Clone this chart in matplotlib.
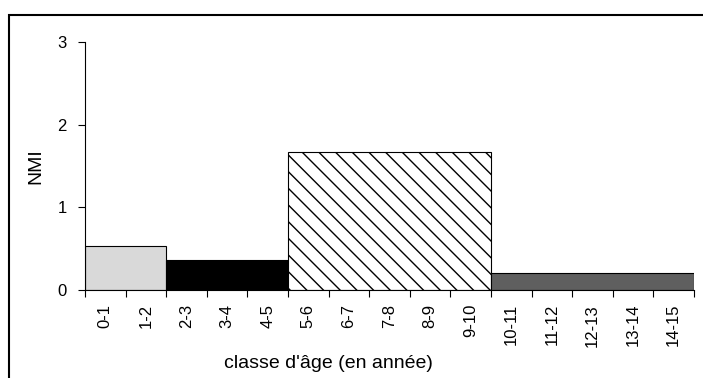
import matplotlib.pyplot as plt
from matplotlib.patches import Rectangle

plt.rcParams['font.family'] = ['Liberation Sans', 'DejaVu Sans']

# age classes (one per year)
classes = ['0-1', '1-2', '2-3', '3-4', '4-5', '5-6', '6-7', '7-8', '8-9', '9-10',
           '10-11', '11-12', '12-13', '13-14', '14-15']

# each group spans several age classes: first class index, number of classes
group_start = [0, 2, 5, 10]
group_span = [2, 3, 5, 5]
nmi = [0.53, 0.36, 1.67, 0.21]
colors = ['#d9d9d9', '#000000', '#ffffff', '#5f5f5f']
hatches = [None, None, '\\\\', None]

fig = plt.figure(figsize=(7.03, 3.78), dpi=100)
ax = fig.add_axes([85 / 703, 88 / 378, 609 / 703, 248 / 378])

for s, w, h, c, ht in zip(group_start, group_span, nmi, colors, hatches):
    ax.bar(s, h, width=w, align='edge', color=c, edgecolor='black',
           linewidth=0.8, hatch=ht)

ax.set_xlim(0, len(classes))
ax.set_ylim(0, 3)
ax.set_yticks([0, 1, 2, 3])

# tick marks between classes, labels centred on each class
ax.set_xticks(range(len(classes) + 1))
ax.set_xticklabels([])
ax.set_xticks([i + 0.5 for i in range(len(classes))], minor=True)
ax.set_xticklabels(classes, minor=True, rotation=90, fontsize=12)
ax.tick_params(axis='x', which='major', length=5, width=0.8, direction='out')
ax.tick_params(axis='x', which='minor', length=0, pad=10)
ax.tick_params(axis='y', length=5, width=0.8, labelsize=12, pad=8)

ax.spines['top'].set_visible(False)
ax.spines['right'].set_visible(False)
ax.spines['left'].set_linewidth(0.8)
ax.spines['bottom'].set_linewidth(0.8)

ax.set_ylabel('NMI', fontsize=14)
ax.yaxis.set_label_coords(-0.066, 0.5)
ax.set_xlabel("classe d'âge (en année)", fontsize=14, va='center')
ax.xaxis.set_label_coords(0.40, -0.295)

# outer frame around the chart area
fig.patches.append(Rectangle((8.5 / 703, -0.1), 1.2, (378 - 14.5) / 378 + 0.1,
                             transform=fig.transFigure, fill=False,
                             edgecolor='black', linewidth=1.5))

fig.savefig('out.png', dpi=100)
